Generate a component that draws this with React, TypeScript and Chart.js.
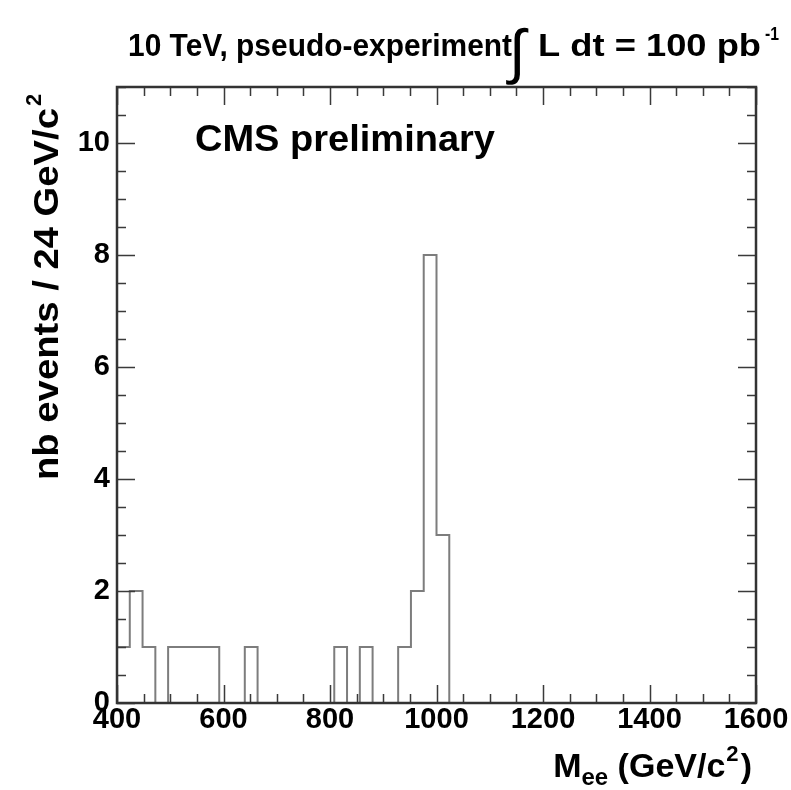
import React, { useEffect, useRef } from 'react';
import { Chart, registerables } from 'chart.js';

Chart.register(...registerables);

// ---- data ----
const binLow = 400;
const binWidth = 24; // GeV per bin
const binCounts = [
  1, 2, 1, 0, 1, 1, 1, 1, 0, 0,
  1, 0, 0, 0, 0, 0, 0, 1, 0, 1,
  0, 0, 1, 2, 8, 3, 0, 0, 0, 0,
  0, 0, 0, 0, 0, 0, 0, 0, 0, 0,
  0, 0, 0, 0, 0, 0, 0, 0, 0, 0,
];
const xTickValues = [400, 600, 800, 1000, 1200, 1400, 1600];
const yTickValues = [0, 2, 4, 6, 8, 10];
const xRange = [400, 1600];
const yRange = [0, 11];
const xMinorStep = 50;
const yMinorStep = 0.5;

const titleMain = '10 TeV, pseudo-experiment';
const titleIntegral = '\u222B';
const titleLumi = 'L dt = 100 pb';
const titleLumiExp = '-1';
const cmsText = 'CMS preliminary';
const yTitleText = 'nb events / 24 GeV/c';
const yTitleExp = '2';
const xTitleMain = 'M';
const xTitleSub = 'ee';
const xTitleRest = ' (GeV/c';
const xTitleExp = '2';
const xTitleClose = ')';

const FONT = '"Liberation Sans", Arial, Helvetica, sans-serif';

function fitText(ctx: CanvasRenderingContext2D, text: string, x: number, y: number, font: string, width: number) {
  ctx.save();
  ctx.font = font;
  const w = ctx.measureText(text).width;
  ctx.translate(x, y);
  ctx.scale(width / w, 1);
  ctx.fillText(text, 0, 0);
  ctx.restore();
}

const framePlugin = {
  id: 'rootFrame',
  afterDatasetsDraw(chart: any) {
    const { ctx, chartArea: a, scales } = chart;
    const xs = scales.x;
    const ys = scales.y;
    ctx.save();
    ctx.strokeStyle = '#3a3a3a';
    ctx.lineWidth = 1.5;
    ctx.beginPath();
    for (let v = xRange[0]; v <= xRange[1] + 1e-6; v += xMinorStep) {
      const px = Math.round(xs.getPixelForValue(v)) + 0.5;
      const len = v % 200 === 0 ? 18 : 9;
      ctx.moveTo(px, a.bottom);
      ctx.lineTo(px, a.bottom - len);
      ctx.moveTo(px, a.top);
      ctx.lineTo(px, a.top + len);
    }
    for (let v = yRange[0]; v <= yRange[1] + 1e-6; v += yMinorStep) {
      const py = Math.round(ys.getPixelForValue(v)) + 0.5;
      const len = v % 2 === 0 ? 18 : 9;
      ctx.moveTo(a.left, py);
      ctx.lineTo(a.left + len, py);
      ctx.moveTo(a.right, py);
      ctx.lineTo(a.right - len, py);
    }
    ctx.stroke();
    ctx.lineWidth = 2.5;
    ctx.strokeStyle = '#333';
    ctx.strokeRect(a.left, a.top, a.right - a.left, a.bottom - a.top);
    ctx.restore();
  },
  afterDraw(chart: any) {
    const { ctx } = chart;
    ctx.save();
    ctx.fillStyle = '#000';
    ctx.textBaseline = 'alphabetic';
    ctx.textAlign = 'left';

    // top title
    fitText(ctx, titleMain, 128, 56, `bold 32px ${FONT}`, 384);
    ctx.font = `60px ${FONT}`;
    ctx.fillText(titleIntegral, 509, 72);
    fitText(ctx, titleLumi, 538, 56, `bold 32px ${FONT}`, 223);
    fitText(ctx, titleLumiExp, 765, 40, `bold 18px ${FONT}`, 14);

    // CMS preliminary
    fitText(ctx, cmsText, 195, 151, `bold 37px ${FONT}`, 300);

    // x title
    ctx.font = `bold 34px ${FONT}`;
    const wM = ctx.measureText(xTitleMain).width;
    const wRest = ctx.measureText(xTitleRest).width;
    const wClose = ctx.measureText(xTitleClose).width;
    ctx.font = `bold 24px ${FONT}`;
    const wSub = ctx.measureText(xTitleSub).width;
    const wExp = ctx.measureText(xTitleExp).width;
    const total = wM + wSub + wRest + wExp + wClose + 2;
    let x = 752 - total;
    const by = 777;
    ctx.font = `bold 34px ${FONT}`;
    ctx.fillText(xTitleMain, x, by);
    x += wM;
    ctx.font = `bold 24px ${FONT}`;
    ctx.fillText(xTitleSub, x, by + 8);
    x += wSub;
    ctx.font = `bold 34px ${FONT}`;
    ctx.fillText(xTitleRest, x, by);
    x += wRest;
    ctx.font = `bold 22px ${FONT}`;
    ctx.fillText(xTitleExp, x + 1, by - 16);
    x += wExp + 2;
    ctx.font = `bold 34px ${FONT}`;
    ctx.fillText(xTitleClose, x, by);

    // y title (rotated), spanning 88..480
    ctx.translate(58, 480);
    ctx.rotate(-Math.PI / 2);
    const yMainW = 372;
    fitText(ctx, yTitleText, 0, 0, `bold 35px ${FONT}`, yMainW);
    ctx.font = `bold 22px ${FONT}`;
    ctx.fillText(yTitleExp, yMainW + 2, -17);
    ctx.restore();
  },
};

export default function App() {
  const ref = useRef<HTMLCanvasElement>(null);
  useEffect(() => {
    if (!ref.current) return;
    const points: { x: number; y: number }[] = [{ x: binLow, y: 0 }];
    binCounts.forEach((c, i) => points.push({ x: binLow + i * binWidth, y: c }));
    points.push({ x: binLow + binCounts.length * binWidth, y: 0 });

    const chart = new Chart(ref.current, {
      type: 'line',
      data: {
        datasets: [
          {
            data: points,
            stepped: 'before',
            borderColor: '#7d7d7d',
            borderWidth: 2,
            pointRadius: 0,
            fill: false,
          },
        ],
      },
      options: {
        responsive: false,
        animation: false,
        layout: { padding: { top: 87, right: 35, left: 0, bottom: 0 } },
        plugins: { legend: { display: false }, tooltip: { enabled: false } },
        scales: {
          x: {
            type: 'linear',
            min: xRange[0],
            max: xRange[1],
            grid: { display: false, drawTicks: false },
            border: { display: false },
            afterBuildTicks: (s: any) => {
              s.ticks = xTickValues.map((v) => ({ value: v }));
            },
            afterFit: (s: any) => {
              s.height = 87;
            },
            ticks: {
              autoSkip: false,
              maxRotation: 0,
              padding: 0,
              color: '#000',
              font: { family: FONT, size: 29, weight: 'bold' },
              callback: (v: any) => String(v),
            },
          },
          y: {
            type: 'linear',
            min: yRange[0],
            max: yRange[1],
            grid: { display: false, drawTicks: false },
            border: { display: false },
            afterBuildTicks: (s: any) => {
              s.ticks = yTickValues.map((v) => ({ value: v }));
            },
            afterFit: (s: any) => {
              s.width = 117;
            },
            ticks: {
              padding: 7,
              color: '#000',
              font: { family: FONT, size: 29, weight: 'bold' },
              callback: (v: any) => String(v),
            },
          },
        },
      },
      plugins: [framePlugin],
    });
    return () => chart.destroy();
  }, []);
  return (
    <div style={{ position: 'fixed', left: 0, top: 0, width: 791, height: 790, background: '#fff' }}>
      <canvas ref={ref} width={791} height={790} style={{ display: 'block' }} />
    </div>
  );
}
